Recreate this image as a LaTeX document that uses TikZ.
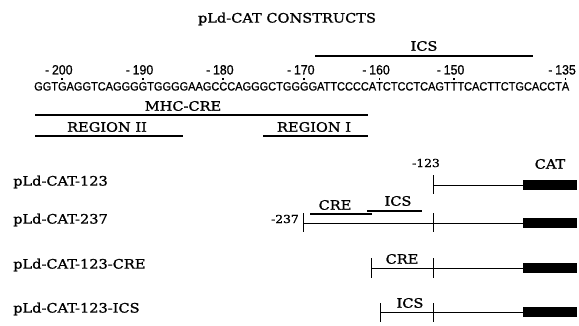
\documentclass[tikz,border=0pt]{standalone}
\usepackage{fontspec}
\usepackage{graphicx}
\setmainfont[FakeStretch=1.12,FakeBold=1.2]{DejaVu Serif}
\newfontfamily\seqfont[FakeBold=0.9]{Liberation Sans}
\newcommand\lblfont{\rmfamily\fontsize{13}{15}\selectfont}
\newcommand\smallfont{\rmfamily\fontsize{11}{13}\selectfont}
\newcommand\numfnt{\seqfont\fontsize{13.5}{15}\selectfont}
\newcommand\mk[2]{\setbox0\hbox{#1}%
  \rlap{\hbox to\wd0{\hss\raisebox{10.5pt}{\rule{1.8pt}{1.8pt}}\hss}}%
  \rlap{\hbox to\wd0{\hss\raisebox{16pt}{\makebox[0pt]{\numfnt\llap{-\kern3pt}#2}}\hss}}%
  \box0}
\begin{document}
\begin{tikzpicture}[x=1pt,y=-1pt,
  lab/.style={inner sep=0pt, font=\lblfont},
  smalllab/.style={inner sep=0pt, font=\smallfont},
  seg/.style={line width=0.9pt},
  bar/.style={line width=1.8pt},
  tickmark/.style={inner sep=0pt, minimum width=0.9pt, minimum height=19pt, fill=black, draw=none},
  catbox/.style={inner sep=0pt, minimum width=54pt, minimum height=10pt, fill=black, draw=none}]
\useasboundingbox (0,0) rectangle (579,326);
% title
\node[lab] (title) at (287,19) {pLd-CAT CONSTRUCTS};
% ICS over sequence
\node[lab] (icstop) at (424,46) {ICS};
\coordinate (icsA) at (315,56); \coordinate (icsB) at (533,56);
\draw[bar] (icsA) -- (icsB);
% sequence with position marks
\node[anchor=base west, inner sep=0pt] (seq) at (34,90.5) {\resizebox{535pt}{\height}{\seqfont\fontsize{12}{14}\selectfont
GGT\mk{G}{200}AGGTCAGGG\mk{G}{190}TGGGGAAGC\mk{C}{180}CAGGGCTGG\mk{G}{170}GATTCCCCA\mk{T}{160}CTCCTCAGT\mk{T}{150}TCACTTCTGCACCT\mk{A}{135}}};
% MHC-CRE and regions
\node[lab] (mhc) at (183,106) {MHC-CRE};
\coordinate (mhcA) at (35,115); \coordinate (mhcB) at (368,115);
\draw[bar] (mhcA) -- (mhcB);
\node[lab] (reg2) at (107,127) {REGION II};
\coordinate (r2A) at (35,136); \coordinate (r2B) at (183,136);
\draw[bar] (r2A) -- (r2B);
\node[lab] (reg1) at (314,127) {REGION I};
\coordinate (r1A) at (263,136); \coordinate (r1B) at (368,136);
\draw[bar] (r1A) -- (r1B);
% row 1
\node[lab, anchor=west] (c1) at (13,182) {pLd-CAT-123};
\node[smalllab] (n123) at (426,163) {-123};
\node[lab] (cat) at (550,164) {CAT};
\node[tickmark] (k1) at (433,185) {};
\node[catbox] (b1) at (550,185) {};
\draw[seg] (k1.center) -- (b1.west);
% row 2
\node[lab, anchor=west] (c2) at (13,220) {pLd-CAT-237};
\node[smalllab, anchor=east] (n237) at (299,219) {-237};
\node[tickmark] (k2a) at (303,223) {};
\node[tickmark] (k2b) at (433,223) {};
\node[catbox] (b2) at (550,223) {};
\draw[seg] (k2a.center) -- (b2.west);
\node[lab] (cre2) at (335,205) {CRE};
\coordinate (cre2A) at (310,214); \coordinate (cre2B) at (372,214);
\draw[bar] (cre2A) -- (cre2B);
\node[lab] (ics2) at (398,201) {ICS};
\coordinate (ics2A) at (367,211); \coordinate (ics2B) at (422,211);
\draw[bar] (ics2A) -- (ics2B);
% row 3
\node[lab, anchor=west] (c3) at (13,265) {pLd-CAT-123-CRE};
\node[tickmark] (k3a) at (371,268) {};
\node[tickmark] (k3b) at (433,268) {};
\node[catbox] (b3) at (550,268) {};
\draw[seg] (k3a.center) -- (b3.west);
\node[lab] (cre3) at (402,259) {CRE};
% row 4
\node[lab, anchor=west] (c4) at (13,309) {pLd-CAT-123-ICS};
\node[tickmark] (k4a) at (380,312) {};
\node[tickmark] (k4b) at (433,312) {};
\node[catbox] (b4) at (550,312) {};
\draw[seg] (k4a.center) -- (b4.west);
\node[lab] (ics4) at (410,303) {ICS};
\end{tikzpicture}
\end{document}
